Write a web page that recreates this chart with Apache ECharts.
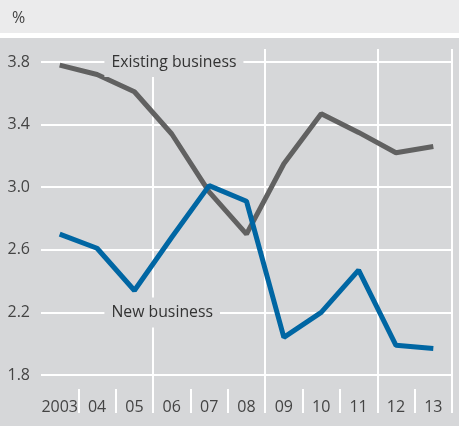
<!DOCTYPE html>
<html><head><meta charset="utf-8">
<script src="https://cdn.jsdelivr.net/npm/echarts@6/dist/echarts.min.js"></script>
<style>
html,body{margin:0;padding:0;background:#fff;}
#c{width:459px;height:426px;background:linear-gradient(to bottom,#ebebec 0,#ebebec 33px,#ffffff 33px,#ffffff 38px,#d6d7d9 38px);}
</style></head>
<body><div id="c"></div>
<script>
const categories = ['2003','04','05','06','07','08','09','10','11','12','13'];
const existingBusiness = [3.78,3.72,3.61,3.34,2.97,2.70,3.15,3.47,3.35,3.22,3.26];
const newBusiness = [2.70,2.61,2.34,2.68,3.01,2.91,2.04,2.20,2.47,1.99,1.97];
const yTicks = [1.8,2.2,2.6,3.0,3.4,3.8];
const unitLabel = '%';
const existingLabel = 'Existing business';
const newLabel = 'New business';

const FONT = '"Open Sans", "Noto Sans", sans-serif';
const PLOT_BG = '#d6d7d9';
const chart = echarts.init(document.getElementById('c'));
const labelPoint = (text, cat, val) => ({
  coord: [cat, val],
  label: {
    show: true, position: 'inside', formatter: text, align: 'left',
    offset: [-30, 0], color: '#333', fontFamily: FONT, fontSize: 15.8,
    backgroundColor: PLOT_BG, padding: [7, 7]
  }
});
chart.setOption({
  animation: false,
  title: { text: unitLabel, left: 7, top: 5, textStyle: { fontFamily: FONT, fontSize: 16, fontWeight: 'normal', color: '#444' } },
  grid: [
    { left: 41, right: 7, top: 62, bottom: 51 },
    { left: 41, right: 7, top: 49, bottom: 13 }
  ],
  xAxis: [
    { type: 'category', gridIndex: 0, data: categories, boundaryGap: true,
      axisLine: { show: false }, axisTick: { show: false },
      axisLabel: { interval: 0, margin: 24, color: '#444', fontFamily: FONT, fontSize: 16 },
      splitLine: { show: false } },
    { type: 'category', gridIndex: 1, data: categories, boundaryGap: true,
      axisLine: { show: false }, axisLabel: { show: false },
      axisTick: { show: true, inside: true, length: 24, interval: (i) => i > 0, lineStyle: { color: '#fff', width: 2 } },
      splitLine: { show: true, interval: (i) => i === 3 || i === 6 || i === 9, lineStyle: { color: '#fff', width: 2 } } }
  ],
  yAxis: [
    { type: 'value', gridIndex: 0, min: yTicks[0], max: yTicks[yTicks.length - 1], interval: 0.4,
      axisLine: { show: false }, axisTick: { show: false },
      axisLabel: { margin: 11, color: '#444', fontFamily: FONT, fontSize: 16, formatter: v => v.toFixed(1) },
      splitLine: { show: true, lineStyle: { color: '#fff', width: 2 } } },
    { type: 'value', gridIndex: 1, min: 0, max: 1, show: false, splitLine: { show: false } }
  ],
  series: [
    { type: 'line', xAxisIndex: 0, yAxisIndex: 0, data: [], z: 2, silent: true,
      markPoint: { symbol: 'rect', symbolSize: 0, silent: true,
        data: [labelPoint(existingLabel, '05', 3.8), labelPoint(newLabel, '05', 2.2)] } },
    { type: 'line', name: existingLabel, xAxisIndex: 0, yAxisIndex: 0, data: existingBusiness,
      symbol: 'none', lineStyle: { color: '#616161', width: 5 }, z: 3 },
    { type: 'line', name: newLabel, xAxisIndex: 0, yAxisIndex: 0, data: newBusiness,
      symbol: 'none', lineStyle: { color: '#0066a3', width: 5 }, z: 4 },
    { type: 'line', xAxisIndex: 1, yAxisIndex: 1, data: [], silent: true }
  ]
});
</script></body></html>
